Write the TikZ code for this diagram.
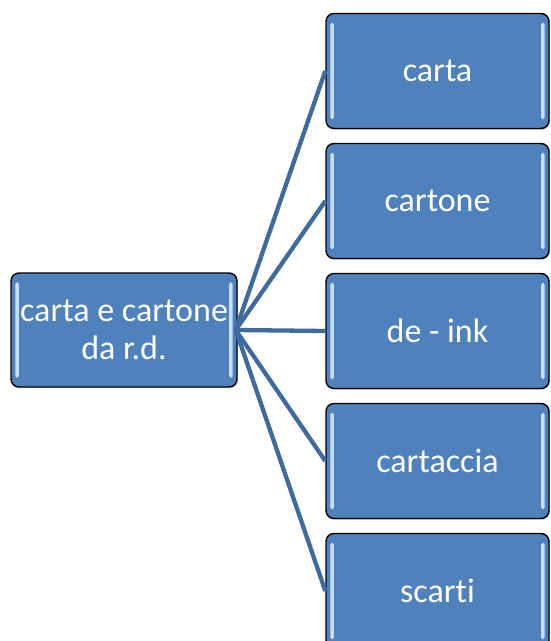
\documentclass[tikz,border=0pt]{standalone}
\usepackage{fontspec}
\setmainfont[Ligatures={NoCommon}]{Carlito}
\usetikzlibrary{shadows}
\definecolor{boxfill}{HTML}{4F81BD}
\definecolor{linecol}{HTML}{3F6A9E}
\definecolor{stripe}{HTML}{C9DDF5}
\begin{document}
\begin{tikzpicture}[x=1pt,y=1pt,
  box/.style={draw=black, line width=1.4pt, fill=boxfill, rounded corners=8pt,
    minimum width=223pt, minimum height=115pt, inner sep=0pt,
    text=white, align=center, font=\fontsize{34}{38}\selectfont,
    drop shadow={shadow xshift=1pt, shadow yshift=-1.5pt, opacity=0.35}},
  conn/.style={draw=linecol, line width=4.3pt},
  stripebar/.style={fill=stripe, rounded corners=1.5pt}]
\useasboundingbox (0,0) rectangle (550,641);
\node[box, minimum width=226pt, minimum height=114pt] (L) at (124,311) {carta e cartone\\da r.d.};
\node[box] (r1) at (437.5,570) {carta};
\node[box] (r2) at (437.5,440) {cartone};
\node[box] (r3) at (437.5,310) {de - ink};
\node[box] (r4) at (437.5,180) {cartaccia};
\node[box] (r5) at (437.5,50) {scarti};
\coordinate (hub) at ([xshift=-2pt]L.east);
\foreach \n in {L,r1,r2,r3,r4,r5}{
  \fill[stripebar] ([xshift=5pt,yshift=10pt]\n.south west) rectangle ([xshift=8.5pt,yshift=-10pt]\n.north west);
  \fill[stripebar] ([xshift=-8.5pt,yshift=10pt]\n.south east) rectangle ([xshift=-5pt,yshift=-10pt]\n.north east);
}
\foreach \n in {r1,r2,r3,r4,r5}{
  \draw[conn] (hub) -- (\n.west);
}
\end{tikzpicture}
\end{document}
